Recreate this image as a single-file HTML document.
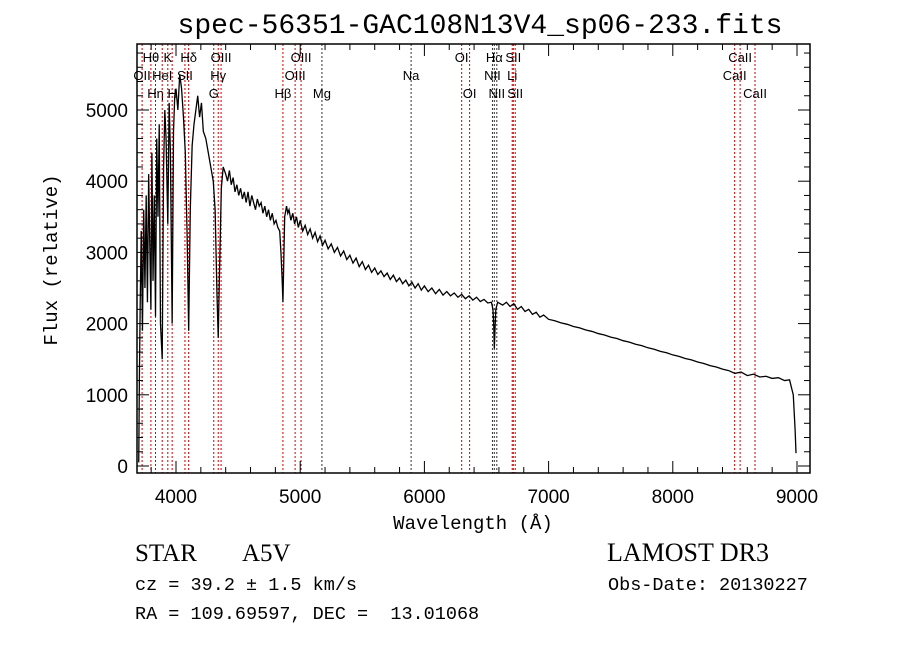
<!DOCTYPE html>
<html><head><meta charset="utf-8">
<style>
body{margin:0;background:#fff;width:900px;height:649px;overflow:hidden}
svg text{font-family:"Liberation Sans",sans-serif}
.mono{font-family:"Liberation Mono",monospace}
.serif{font-family:"Liberation Serif",serif}
</style></head><body>
<svg id="chart" width="900" height="649">
<text x="480" y="33" text-anchor="middle" class="mono" font-size="28">spec-56351-GAC108N13V4_sp06-233.fits</text>
<g id="plot"></g>
<text transform="translate(57,260) rotate(-90)" text-anchor="middle" class="mono" font-size="19">Flux (relative)</text>
<text x="473" y="529" text-anchor="middle" class="mono" font-size="19">Wavelength (Å)</text>
<text x="135" y="561" class="serif" font-size="25">STAR</text>
<text x="242" y="561" class="serif" font-size="25">A5V</text>
<text x="607" y="561" class="serif" font-size="26">LAMOST DR3</text>
<text x="135" y="590" class="mono" font-size="18.5">cz = 39.2 ± 1.5 km/s</text>
<text x="608" y="590" class="mono" font-size="18.5">Obs-Date: 20130227</text>
<text x="135" y="619" class="mono" font-size="18.5" xml:space="preserve">RA = 109.69597, DEC =  13.01068</text>
</svg>
<script>
const waves=[3700,3705,3712,3720,3730,3740,3750,3760,3770,3780,3790,3798,3806,3815,3825,3835,3845,3855,3865,3875,3889,3900,3910,3920,3934,3945,3955,3969,3980,3990,4000,4015,4030,4045,4060,4075,4090,4102,4115,4130,4145,4160,4175,4190,4205,4220,4240,4260,4280,4300,4315,4330,4340,4350,4365,4380,4400,4415,4430,4445,4460,4475,4490,4505,4520,4535,4550,4565,4580,4595,4610,4625,4640,4655,4670,4685,4700,4715,4730,4745,4760,4775,4790,4805,4820,4835,4845,4855,4861,4868,4875,4890,4900,4910,4925,4940,4955,4970,4985,5000,5020,5040,5060,5080,5100,5120,5140,5160,5180,5200,5225,5250,5275,5300,5325,5350,5375,5400,5425,5450,5475,5500,5525,5550,5575,5600,5625,5650,5675,5700,5725,5750,5775,5800,5825,5850,5875,5900,5925,5950,5975,6000,6030,6060,6090,6120,6150,6180,6210,6240,6270,6300,6330,6360,6390,6420,6450,6480,6510,6540,6552,6558,6563,6568,6575,6590,6610,6630,6660,6690,6720,6750,6780,6810,6840,6870,6900,6930,6960,7000,7050,7100,7150,7200,7250,7300,7350,7400,7450,7500,7550,7600,7650,7700,7750,7800,7850,7900,7950,8000,8050,8100,8150,8200,8250,8300,8350,8400,8450,8500,8550,8600,8650,8700,8750,8800,8850,8900,8940,8970,8985,8992,9000];
const flux=[50,1200,2300,3300,1900,3600,2500,3800,2300,4100,3000,2200,4400,2600,3800,2100,4600,3500,4800,2000,1500,4200,5000,4600,3400,5100,4400,2000,4700,5200,5300,5000,5500,5300,4900,4400,3200,1900,3600,4500,4800,5000,5200,4900,5100,4700,4600,4400,4200,4000,3600,2400,1800,2700,3900,4200,4100,4000,4150,3950,4050,3850,3950,3800,3900,3750,3850,3700,3850,3650,3800,3700,3600,3750,3650,3700,3550,3650,3500,3600,3450,3550,3400,3450,3350,3300,3000,2600,2300,2900,3500,3650,3550,3600,3450,3550,3400,3500,3350,3450,3300,3380,3250,3330,3200,3280,3150,3230,3100,3170,3050,3120,3000,3070,2950,3020,2900,2960,2850,2920,2800,2870,2760,2820,2720,2780,2690,2740,2660,2710,2620,2680,2590,2640,2560,2610,2530,2580,2500,2560,2470,2530,2450,2500,2420,2480,2400,2450,2390,2430,2370,2410,2350,2390,2330,2370,2310,2340,2290,2300,2200,2000,1650,1900,2200,2300,2280,2260,2300,2240,2280,2200,2240,2170,2200,2130,2160,2090,2120,2060,2040,2010,1990,1960,1940,1910,1890,1860,1840,1810,1790,1760,1740,1710,1690,1660,1640,1610,1590,1560,1540,1510,1490,1460,1440,1410,1390,1360,1340,1300,1320,1270,1290,1250,1260,1230,1240,1200,1210,1000,500,180];
const lineWaves=[3727,3798,3835,3889,3934,3969,4072,4102,4304,4340,4363,4861,4959,5007,5175,5893,6300,6364,6548,6563,6583,6707,6716,6731,8498,8542,8662];
const lineLabels=["OII","Hθ","Hη","HeI","K","H","SII","Hδ","G","Hγ","OIII","Hβ","OIII","OIII","Mg","Na","OI","OI","NII","Hα","NII","Li","SII","SII","CaII","CaII","CaII"];
const lineRows=[1,0,2,1,0,2,1,0,2,1,0,2,1,0,2,1,0,2,1,0,2,1,0,2,1,0,2];
const lineRed=[1,1,1,1,1,1,1,1,1,1,1,1,1,1,0,0,1,1,0,0,0,1,1,1,1,1,1];
const xTicks=[4000,5000,6000,7000,8000,9000];
const yTicks=[0,1000,2000,3000,4000,5000];

const L=137,R=810,T=44,B=473;
const x=w=>176+(w-4000)*0.1242;
const y=v=>466-v*0.0712;
const NS="http://www.w3.org/2000/svg";
const g=document.getElementById('plot');
function mk(t,a){const e=document.createElementNS(NS,t);for(const k in a)e.setAttribute(k,a[k]);g.appendChild(e);return e;}

lineWaves.forEach((w,i)=>{
 const l=mk('line',{x1:x(w),x2:x(w),y1:T,y2:B,stroke:lineRed[i]?'#c00':'#333','stroke-width':1,'stroke-dasharray':'2,2'});
 
 
 const t=mk('text',{x:x(w),y:62+lineRows[i]*18,'text-anchor':'middle','font-size':13,'font-family':'Liberation Serif,serif'});
 t.textContent=lineLabels[i];
 
 
});

const frame=mk('rect',{x:L,y:T,width:R-L,height:B-T,fill:'none',stroke:'#000','stroke-width':1.5});



for(let w=3800;w<=9100;w+=200){const len=(w%1000===0)?12:6;
 mk('line',{x1:x(w),x2:x(w),y1:B,y2:B-len,stroke:'#000'});
 mk('line',{x1:x(w),x2:x(w),y1:T,y2:T+len,stroke:'#000'});}
for(let v=0;v<=5800;v+=200){const len=(v%1000===0)?12:6;
 mk('line',{x1:L,x2:L+len,y1:y(v),y2:y(v),stroke:'#000'});
 mk('line',{x1:R,x2:R-len,y1:y(v),y2:y(v),stroke:'#000'});}
xTicks.forEach(w=>{const t=mk('text',{x:x(w),y:503,'text-anchor':'middle','font-size':19});t.textContent=w;
 
 });
yTicks.forEach(v=>{const t=mk('text',{x:128,y:y(v)+7,'text-anchor':'end','font-size':19});t.textContent=v;
 
 });

const p=mk('polyline',{points:waves.map((w,i)=>x(w)+','+y(flux[i])).join(' '),fill:'none',stroke:'#000','stroke-width':1.3});


</script>
</body></html>
